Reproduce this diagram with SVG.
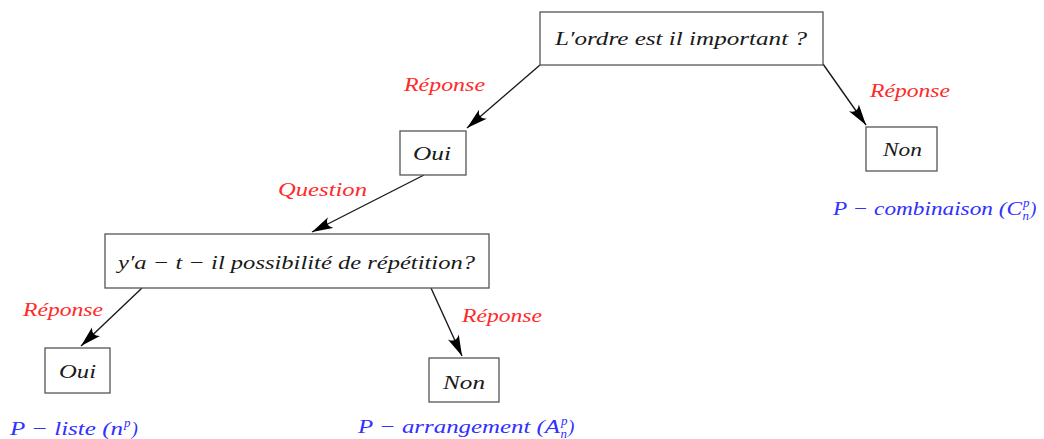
<svg xmlns="http://www.w3.org/2000/svg" width="1044" height="439" viewBox="0 0 1044 439">
<style>
  .box { fill: #ffffff; stroke: #555555; stroke-width: 1.3; }
  .t { font-family: "Liberation Serif", "DejaVu Serif", serif; font-style: italic; font-size: 19px; fill: #1a1a1a; }
  .r { font-family: "Liberation Serif", "DejaVu Serif", serif; font-style: italic; font-size: 19px; fill: #ff2a2a; }
  .b { font-family: "Liberation Serif", "DejaVu Serif", serif; font-style: italic; font-size: 19px; fill: #3030ff; }
  .edge { stroke: #1a1a1a; stroke-width: 1.4; fill: none; marker-end: url(#arr); }
</style>
<defs>
  <marker id="arr" markerUnits="userSpaceOnUse" markerWidth="24" markerHeight="14" refX="21" refY="6" orient="auto">
    <path d="M0,0 Q7,6 0,12 L21,6 Z" fill="#000000"/>
  </marker>
</defs>
<rect width="1044" height="439" fill="#ffffff"/>

<g id="connectors">
  <line class="edge" x1="540" y1="65" x2="467" y2="128"/>
  <line class="edge" x1="823" y1="64" x2="866" y2="125"/>
  <line class="edge" x1="424" y1="175" x2="312" y2="232"/>
  <line class="edge" x1="142" y1="288" x2="81" y2="346"/>
  <line class="edge" x1="431" y1="288" x2="462" y2="356"/>
</g>

<g id="q1">
  <rect class="box" x="540" y="12" width="283" height="53"/>
  <text class="t" x="555" y="45" textLength="252" lengthAdjust="spacingAndGlyphs">L′ordre est il important ?</text>
</g>
<g id="oui1">
  <rect class="box" x="400" y="131" width="66" height="44"/>
  <text class="t" x="413" y="160" textLength="38" lengthAdjust="spacingAndGlyphs">Oui</text>
</g>
<g id="non1">
  <rect class="box" x="866" y="127" width="71" height="44"/>
  <text class="t" x="883" y="156" textLength="39" lengthAdjust="spacingAndGlyphs">Non</text>
</g>
<g id="q2">
  <rect class="box" x="105" y="234" width="384" height="54"/>
  <text class="t" x="118" y="269" textLength="357" lengthAdjust="spacingAndGlyphs">y′a − t − il possibilité de répétition?</text>
</g>
<g id="oui2">
  <rect class="box" x="45" y="348" width="65" height="45"/>
  <text class="t" x="59" y="378" textLength="37" lengthAdjust="spacingAndGlyphs">Oui</text>
</g>
<g id="non2">
  <rect class="box" x="429" y="358" width="70" height="44"/>
  <text class="t" x="443" y="389" textLength="42" lengthAdjust="spacingAndGlyphs">Non</text>
</g>

<g id="labels">
  <text class="r" x="404" y="91" textLength="81" lengthAdjust="spacingAndGlyphs">Réponse</text>
  <text class="r" x="870" y="97" textLength="80" lengthAdjust="spacingAndGlyphs">Réponse</text>
  <text class="r" x="278" y="196" textLength="89" lengthAdjust="spacingAndGlyphs">Question</text>
  <text class="r" x="23" y="316" textLength="80" lengthAdjust="spacingAndGlyphs">Réponse</text>
  <text class="r" x="462" y="322" textLength="80" lengthAdjust="spacingAndGlyphs">Réponse</text>
</g>

<g id="results">
  <text class="b" x="833" y="215"><tspan textLength="189" lengthAdjust="spacingAndGlyphs">P − combinaison (C</tspan><tspan font-size="13" dx="1" dy="-8">p</tspan><tspan font-size="13" dx="-7" dy="13">n</tspan><tspan dx="1" dy="-5">)</tspan></text>
  <text class="b" x="10" y="435"><tspan textLength="113" lengthAdjust="spacingAndGlyphs">P − liste (n</tspan><tspan font-size="13" dx="1" dy="-8">p</tspan><tspan dx="1" dy="8">)</tspan></text>
  <text class="b" x="358" y="433"><tspan textLength="202" lengthAdjust="spacingAndGlyphs">P − arrangement (A</tspan><tspan font-size="13" dx="1" dy="-8">p</tspan><tspan font-size="13" dx="-7" dy="13">n</tspan><tspan dx="1" dy="-5">)</tspan></text>
</g>
</svg>
